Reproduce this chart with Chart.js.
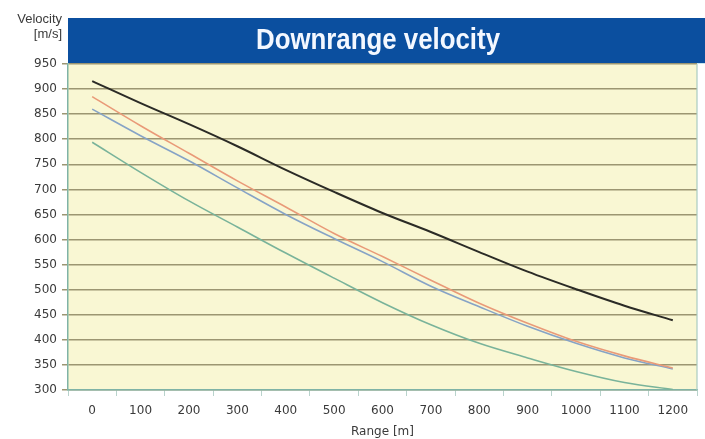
<!DOCTYPE html>
<html>
<head>
<meta charset="utf-8">
<script src="https://cdn.jsdelivr.net/npm/chart.js@4"></script>
<style>
  html, body { margin: 0; padding: 0; background: #ffffff; }
  #wrap { width: 705px; height: 439px; }
</style>
</head>
<body>
<div id="wrap"><canvas id="chart" width="705" height="439"></canvas></div>
<script>
// Range [m] and downrange velocity [m/s] per load
const ranges = [0, 100, 200, 300, 400, 500, 600, 700, 800, 900, 1000, 1100, 1200];
const velBlack = [916, 872, 830, 786, 739, 695, 653, 615, 575, 536, 501, 468, 439];
const velRed = [885, 827, 772, 717, 665, 612, 566, 519, 473, 433, 397, 368, 344];
const velBlue = [860, 807, 757, 703, 650, 602, 556, 507, 466, 427, 393, 364, 342];
const velGreen = [794, 734, 677, 625, 573, 523, 474, 430, 393, 364, 337, 315, 301];

const seriesNames = ['Load 1', 'Load 2', 'Load 3', 'Load 4'];
const seriesColors = ['#2b2b26', '#e99a78', '#86a3c6', '#79b39a'];

const toPoints = vals => vals.map((v, i) => ({ x: ranges[i], y: v }));

// squeeze text to a given width (no narrow font installed)
function narrowText(ctx, text, x, y, width) {
    const w = ctx.measureText(text).width;
    const k = Math.min(1, width / w);
    ctx.save();
    ctx.translate(x, y);
    ctx.scale(k, 1);
    ctx.fillText(text, 0, 0);
    ctx.restore();
}

// cream plot background, blue title bar and the y axis caption
const decor = {
    id: 'decor',
    beforeDraw(chart) {
        const { ctx, chartArea } = chart;
        ctx.save();
        ctx.fillStyle = '#f9f7d3';
        ctx.fillRect(chartArea.left, chartArea.top, chartArea.right - chartArea.left, chartArea.bottom - chartArea.top);

        ctx.fillStyle = '#0b4f9f';
        ctx.fillRect(chartArea.left, 18, chart.width - chartArea.left, chartArea.top - 18);
        ctx.fillStyle = '#c9e6ee';
        ctx.fillRect(chartArea.left, chartArea.top - 1, chart.width - chartArea.left, 1);

        ctx.fillStyle = '#f4f8ff';
        ctx.font = "bold 29px 'Liberation Sans', sans-serif";
        ctx.textAlign = 'center';
        ctx.textBaseline = 'middle';
        narrowText(ctx, 'Downrange velocity', 378, 41, 244);

        ctx.fillStyle = '#3a3a3a';
        ctx.font = "13px 'Liberation Sans', sans-serif";
        ctx.textAlign = 'right';
        narrowText(ctx, 'Velocity', 62, 19, 46);
        narrowText(ctx, '[m/s]', 62, 34, 29);
        ctx.restore();
    },
    afterDraw(chart) {
        const { ctx, chartArea } = chart;
        ctx.save();
        ctx.strokeStyle = '#a9cbc2';
        ctx.lineWidth = 1.2;
        ctx.beginPath();
        ctx.moveTo(chartArea.right, chartArea.top);
        ctx.lineTo(chartArea.right, chartArea.bottom);
        ctx.stroke();
        ctx.restore();
    }
};

new Chart(document.getElementById('chart'), {
    type: 'line',
    data: {
        datasets: [velBlack, velRed, velBlue, velGreen].map((vals, i) => ({
            label: seriesNames[i],
            data: toPoints(vals),
            borderColor: seriesColors[i],
            borderWidth: i === 0 ? 2 : 1.6,
            pointRadius: 0,
            tension: 0.35,
            fill: false
        }))
    },
    options: {
        responsive: false,
        animation: false,
        layout: { padding: { top: 64, right: 6, left: 0, bottom: 0 } },
        plugins: {
            legend: { display: false },
            title: { display: false },
            tooltip: { enabled: false }
        },
        scales: {
            x: {
                type: 'linear',
                min: -50,
                max: 1250,
                afterFit: s => { s.height = 49; },
                ticks: {
                    stepSize: 50,
                    padding: 8,
                    autoSkip: false,
                    maxRotation: 0,
                    color: '#3a3a3a',
                    font: { family: 'DejaVu Sans', size: 12 },
                    callback: v => (v >= 0 && v % 100 === 0) ? String(v) : ''
                },
                grid: {
                    drawOnChartArea: false,
                    drawTicks: true,
                    tickLength: 6,
                    color: ctx => (ctx.tick && ctx.tick.value % 100 !== 0) ? '#b9d3cc' : 'rgba(0,0,0,0)'
                },
                border: { color: '#7fb3a6', width: 1.5 },
                title: {
                    display: true,
                    text: 'Range [m]',
                    color: '#3a3a3a',
                    font: { family: 'DejaVu Sans', size: 12 },
                    padding: 0
                }
            },
            y: {
                min: 300,
                max: 950,
                afterFit: s => { s.width = 68; },
                ticks: {
                    stepSize: 50,
                    padding: 5,
                    color: '#3a3a3a',
                    font: { family: 'DejaVu Sans', size: 12 }
                },
                grid: {
                    color: '#9c9672',
                    lineWidth: 1.5,
                    tickLength: 6
                },
                border: { color: '#7fb3a6', width: 1.5 }
            }
        }
    },
    plugins: [decor]
});
</script>
</body>
</html>
